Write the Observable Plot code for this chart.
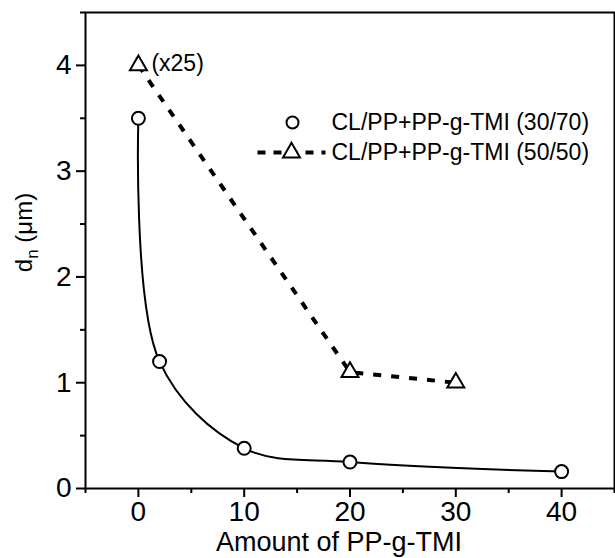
<!DOCTYPE html>
<html>
<head>
<meta charset="utf-8">
<script src="https://cdn.jsdelivr.net/npm/d3@7"></script>
<script src="https://cdn.jsdelivr.net/npm/@observablehq/plot@0.6"></script>
<style>
  html, body { margin: 0; padding: 0; background: #fff; }
  #chart svg { display: block; }
</style>
</head>
<body>
<div id="chart"></div>
<script>
// ---- data ----
const amount3070 = [0, 2, 10, 20, 40];
const dn3070 = [3.5, 1.2, 0.38, 0.25, 0.16];
const amount5050 = [0, 20, 30];
const dn5050 = [4.0, 1.1, 1.0];
const seriesNames = ["CL/PP+PP-g-TMI (30/70)", "CL/PP+PP-g-TMI (50/50)"];
const xMajorTicks = [0, 10, 20, 30, 40];
const xMinorTicks = [-5, 5, 15, 25, 35, 45];
const yMajorTicks = [0, 1, 2, 3, 4];
const yMinorTicks = [0.5, 1.5, 2.5, 3.5, 4.5];
const annotationText = "(x25)";
const xTitle = "Amount of PP-g-TMI";
const yTitle = "dn (μm)";

const s3070 = amount3070.map((x, i) => ({x, y: dn3070[i]}));
const s5050 = amount5050.map((x, i) => ({x, y: dn5050[i]}));

const lineSymbol = {
  draw(context) { context.moveTo(-34, 0); context.lineTo(34, 0); }
};

const chart = Plot.plot({
  width: 615,
  height: 558,
  marginLeft: 85,
  marginRight: 1,
  marginTop: 12,
  marginBottom: 70,
  style: {fontFamily: "'Liberation Sans', Arial, Helvetica, sans-serif", fontSize: "28px", background: "#fff", color: "#000"},
  x: {domain: [-5, 45]},
  y: {domain: [0, 4.5]},
  marks: [
    Plot.axisX({ticks: xMajorTicks, tickFormat: "d", tickSize: 9, tickPadding: 4, label: null, strokeWidth: 2}),
    Plot.axisX({ticks: xMinorTicks, tickSize: 5, tickFormat: () => "", label: null, strokeWidth: 2}),
    Plot.axisY({ticks: yMajorTicks, tickFormat: "d", tickSize: 9, tickPadding: 5, label: null, strokeWidth: 2}),
    Plot.axisY({ticks: yMinorTicks, tickSize: 5, tickFormat: () => "", label: null, strokeWidth: 2}),
    Plot.frame({stroke: "#000", strokeWidth: 2}),
    Plot.line(s3070, {x: "x", y: "y", curve: "catmull-rom", stroke: "#000", strokeWidth: 2}),
    Plot.line(s5050, {x: "x", y: "y", stroke: "#000", strokeWidth: 4, strokeDasharray: "8,10", strokeLinecap: "butt"}),
    Plot.dot(s3070, {x: "x", y: "y", r: 6.5, stroke: "#000", strokeWidth: 2, fill: "#fff"}),
    Plot.dot(s5050, {x: "x", y: "y", symbol: "triangle", r: 6.3, stroke: "#000", strokeWidth: 2, fill: "#fff"}),
    Plot.text([s5050[0]], {x: "x", y: "y", text: () => annotationText, dx: 13, dy: -2, textAnchor: "start", lineAnchor: "middle", fontSize: 23}),
    // legend
    Plot.dot([seriesNames[0]], {frameAnchor: "top-left", dx: 207, dy: 110, r: 6, stroke: "#000", strokeWidth: 2, fill: "#fff"}),
    Plot.text([seriesNames[0]], {text: d => d, frameAnchor: "top-left", dx: 246, dy: 110, textAnchor: "start", lineAnchor: "middle", fontSize: 23}),
    Plot.dot([seriesNames[1]], {frameAnchor: "top-left", dx: 206, dy: 140, symbol: lineSymbol, stroke: "#000", strokeWidth: 4, strokeDasharray: "8,8", strokeLinecap: "butt"}),
    Plot.dot([seriesNames[1]], {frameAnchor: "top-left", dx: 206, dy: 140, symbol: "triangle", r: 6.3, stroke: "#000", strokeWidth: 2, fill: "#fff"}),
    Plot.text([seriesNames[1]], {text: d => d, frameAnchor: "top-left", dx: 246, dy: 140, textAnchor: "start", lineAnchor: "middle", fontSize: 23}),
    // axis titles
    Plot.text([xTitle], {text: d => d, frameAnchor: "bottom", dx: -11, dy: 54, textAnchor: "middle", lineAnchor: "middle", fontSize: 27}),
    Plot.text([yTitle], {text: d => d, frameAnchor: "left", dx: -61, dy: -18, rotate: -90, textAnchor: "middle", lineAnchor: "middle", fontSize: 24})
  ]
});

// subscript "n" in the y title
d3.select(chart).selectAll("text").each(function() {
  if (this.textContent === yTitle) {
    const t = d3.select(this);
    t.text(null);
    t.append("tspan").text("d");
    t.append("tspan").attr("dy", "6").attr("font-size", "17").text("n");
    t.append("tspan").attr("dy", "-6").text(" (μm)");
  }
});

document.getElementById("chart").appendChild(chart);
</script>
</body>
</html>
